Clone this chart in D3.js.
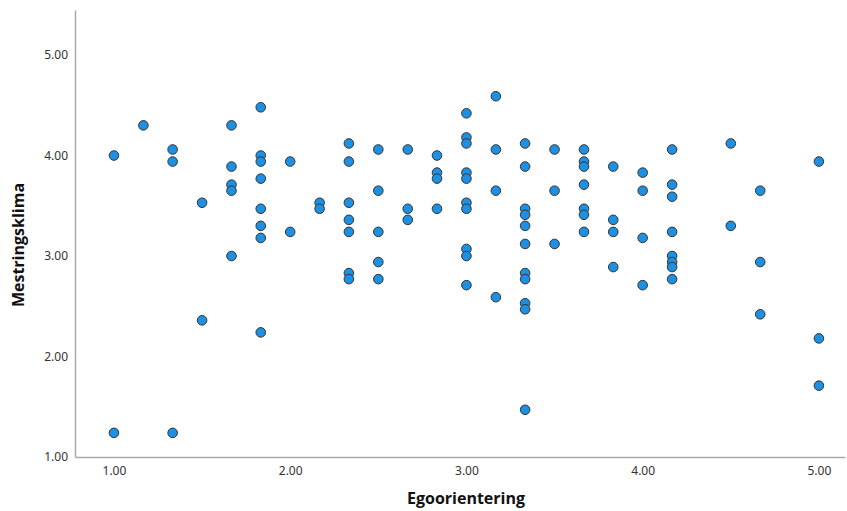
<!DOCTYPE html>
<html>
<head>
<meta charset="utf-8">
<script src="https://cdn.jsdelivr.net/npm/d3@7"></script>
<style>
  body { margin: 0; background: #fff; }
  .tick text { font-family: "Noto Sans", sans-serif; font-size: 12px; fill: #333; }
  .axis-title { font-family: "Open Sans", "Noto Sans", sans-serif; font-weight: bold; font-size: 16px; fill: #111; }
</style>
</head>
<body>
<div id="chart"></div>
<script>
// Egoorientering (x) and Mestringsklima (y), one entry per respondent
var egoorientering = [
    1.000, 1.000,
    1.167,
    1.333, 1.333, 1.333,
    1.500, 1.500,
    1.667, 1.667, 1.667, 1.667, 1.667,
    1.833, 1.833, 1.833, 1.833, 1.833, 1.833, 1.833, 1.833,
    2.000, 2.000,
    2.167, 2.167,
    2.333, 2.333, 2.333, 2.333, 2.333, 2.333, 2.333,
    2.500, 2.500, 2.500, 2.500, 2.500,
    2.667, 2.667, 2.667,
    2.833, 2.833, 2.833, 2.833,
    3.000, 3.000, 3.000, 3.000, 3.000, 3.000, 3.000, 3.000, 3.000, 3.000,
    3.167, 3.167, 3.167, 3.167,
    3.333, 3.333, 3.333, 3.333, 3.333, 3.333, 3.333, 3.333, 3.333, 3.333, 3.333,
    3.500, 3.500, 3.500,
    3.667, 3.667, 3.667, 3.667, 3.667, 3.667, 3.667,
    3.833, 3.833, 3.833, 3.833,
    4.000, 4.000, 4.000, 4.000,
    4.167, 4.167, 4.167, 4.167, 4.167, 4.167, 4.167, 4.167,
    4.500, 4.500,
    4.667, 4.667, 4.667,
    5.000, 5.000, 5.000
];
var mestringsklima = [
    4.00, 1.24,
    4.30,
    4.06, 3.94, 1.24,
    3.53, 2.36,
    4.30, 3.89, 3.71, 3.65, 3.00,
    4.48, 4.00, 3.94, 3.77, 3.47, 3.30, 3.18, 2.24,
    3.94, 3.24,
    3.53, 3.47,
    4.12, 3.94, 3.53, 3.36, 3.24, 2.83, 2.77,
    4.06, 3.65, 3.24, 2.94, 2.77,
    4.06, 3.47, 3.36,
    4.00, 3.83, 3.77, 3.47,
    4.42, 4.18, 4.12, 3.83, 3.77, 3.53, 3.47, 3.07, 3.00, 2.71,
    4.59, 4.06, 3.65, 2.59,
    4.12, 3.89, 3.47, 3.41, 3.30, 3.12, 2.83, 2.77, 2.53, 2.47, 1.47,
    4.06, 3.65, 3.12,
    4.06, 3.94, 3.89, 3.71, 3.47, 3.41, 3.24,
    3.89, 3.36, 3.24, 2.89,
    3.83, 3.65, 3.18, 2.71,
    4.06, 3.71, 3.59, 3.24, 3.00, 2.94, 2.89, 2.77,
    4.12, 3.30,
    3.65, 2.94, 2.42,
    3.94, 2.18, 1.71
];
var xTicks = [1, 2, 3, 4, 5];
var yTicks = [1, 2, 3, 4, 5];

var data = egoorientering.map(function (x, i) {
    return { x: x, y: mestringsklima[i] };
});

var svgWidth = 847, svgHeight = 511;
var plotLeft = 75, plotRight = 845, plotTop = 10, plotBottom = 457;

var svg = d3.select("#chart")
    .append("svg")
    .attr("width", svgWidth)
    .attr("height", svgHeight);

var xScale = d3.scaleLinear()
    .domain([0.779, 5.148])
    .range([plotLeft, plotRight]);

var yScale = d3.scaleLinear()
    .domain([1, 5.448])
    .range([plotBottom, plotTop]);

// x axis
var xAxis = svg.append("g")
    .attr("transform", "translate(0," + plotBottom + ")")
    .call(d3.axisBottom(xScale)
        .tickValues(xTicks)
        .tickFormat(d3.format(".2f"))
        .tickSize(0)
        .tickPadding(9));
xAxis.select(".domain").attr("stroke", "#aaa").attr("stroke-width", 1.5);

// y axis
var yAxis = svg.append("g")
    .attr("transform", "translate(" + plotLeft + ",0)")
    .call(d3.axisLeft(yScale)
        .tickValues(yTicks)
        .tickFormat(d3.format(".2f"))
        .tickSize(0)
        .tickPadding(7));
yAxis.select(".domain").attr("stroke", "#aaa").attr("stroke-width", 1.5);

// points
svg.append("g")
    .selectAll("circle")
    .data(data)
    .enter().append("circle")
    .attr("cx", function (d) { return xScale(d.x); })
    .attr("cy", function (d) { return yScale(d.y); })
    .attr("r", 4.8)
    .attr("fill", "#1e90e2")
    .attr("stroke", "#333")
    .attr("stroke-width", 1);

// axis titles
svg.append("text")
    .attr("class", "axis-title")
    .attr("x", 466)
    .attr("y", 504)
    .attr("text-anchor", "middle")
    .text("Egoorientering");

svg.append("text")
    .attr("class", "axis-title")
    .attr("transform", "translate(24,245) rotate(-90)")
    .attr("text-anchor", "middle")
    .text("Mestringsklima");
</script>
</body>
</html>
